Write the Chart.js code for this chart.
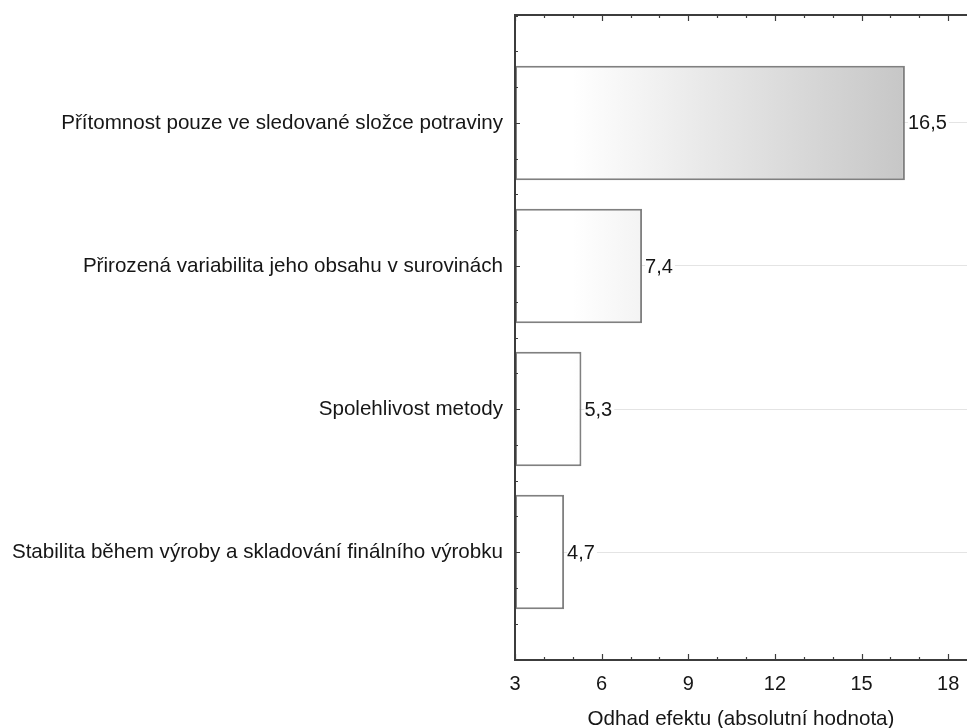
<!DOCTYPE html>
<html>
<head>
<meta charset="utf-8">
<script src="https://cdn.jsdelivr.net/npm/chart.js@4/dist/chart.umd.min.js"></script>
<style>
  body { margin: 0; background: #fff; }
  #wrap { width: 967px; height: 728px; }
</style>
</head>
<body>
<div id="wrap"><canvas id="chart"></canvas></div>
<script>
// data
const categories = [
  'Přítomnost pouze ve sledované složce potraviny',
  'Přirozená variabilita jeho obsahu v surovinách',
  'Spolehlivost metody',
  'Stabilita během výroby a skladování finálního výrobku'
];
const effects = [16.5, 7.4, 5.3, 4.7];
const xTickValues = [3, 6, 9, 12, 15, 18];
const xMin = 3, xMax = 18.65;

const fontFamily = '"Liberation Sans", Arial, sans-serif';
const textColor = '#161616';
const frameColor = '#3c3c3c';

// frame + inward tick marks, like the original plot
const frameTicks = {
  id: 'frameTicks',
  afterDraw(chart) {
    const ctx = chart.ctx;
    const a = chart.chartArea;
    const xs = chart.scales.x, ys = chart.scales.y;
    ctx.save();
    ctx.strokeStyle = frameColor;
    ctx.lineWidth = 2;
    ctx.beginPath();
    ctx.moveTo(a.right + 2, a.top);
    ctx.lineTo(a.left, a.top);
    ctx.lineTo(a.left, a.bottom);
    ctx.lineTo(a.right + 2, a.bottom);
    ctx.stroke();

    ctx.lineWidth = 1.2;
    ctx.beginPath();
    for (let v = Math.ceil(xMin); v <= xMax; v++) {
      const px = Math.round(xs.getPixelForValue(v)) + 0.5;
      const len = (v % 3 === 0) ? 6 : 3;
      ctx.moveTo(px, a.bottom);
      ctx.lineTo(px, a.bottom - len);
      ctx.moveTo(px, a.top);
      ctx.lineTo(px, a.top + len);
    }
    for (let v = -0.75; v <= 3.75; v += 0.25) {
      const py = Math.round(ys.getPixelForValue(v)) + 0.5;
      const len = Number.isInteger(v) ? 5 : 3;
      ctx.moveTo(a.left, py);
      ctx.lineTo(a.left + len, py);
    }
    ctx.stroke();
    ctx.restore();
  }
};

// value labels with comma decimals
const valueLabels = {
  id: 'valueLabels',
  afterDatasetsDraw(chart) {
    const ctx = chart.ctx;
    const meta = chart.getDatasetMeta(0);
    ctx.save();
    ctx.font = '20px ' + fontFamily;
    ctx.textBaseline = 'middle';
    ctx.textAlign = 'left';
    meta.data.forEach((bar, i) => {
      const txt = effects[i].toFixed(1).replace('.', ',');
      const w = ctx.measureText(txt).width;
      const x = bar.x + 3;
      ctx.fillStyle = '#fff';
      ctx.fillRect(x, bar.y - 11, w + 2, 22);
      ctx.fillStyle = textColor;
      ctx.fillText(txt, x, bar.y + 1);
    });
    ctx.restore();
  }
};

const ctx = document.getElementById('chart').getContext('2d');

const chart = new Chart(ctx, {
  type: 'bar',
  data: {
    datasets: [{
      data: effects.map((v, i) => ({ x: v, y: i })),
      base: xMin,
      backgroundColor: function(c) {
        const ch = c.chart;
        if (!ch.chartArea) return '#ffffff';
        const x0 = ch.scales.x.getPixelForValue(5.0);
        const g = ch.ctx.createLinearGradient(x0, 0, ch.chartArea.right, 0);
        g.addColorStop(0, '#ffffff');
        g.addColorStop(1, '#bcbcbc');
        return g;
      },
      borderColor: '#808080',
      borderWidth: 2,
      borderSkipped: false,
      categoryPercentage: 1,
      barPercentage: 0.8
    }]
  },
  options: {
    indexAxis: 'y',
    responsive: true,
    maintainAspectRatio: false,
    animation: false,
    layout: { padding: { top: 15, right: 0, bottom: 0, left: 0 } },
    plugins: {
      legend: { display: false },
      tooltip: { enabled: false }
    },
    scales: {
      x: {
        type: 'linear',
        min: xMin,
        max: xMax,
        afterBuildTicks: function(scale) {
          scale.ticks = xTickValues.map(v => ({ value: v }));
        },
        afterFit: function(scale) {
          scale.height = 68;
          scale.paddingLeft = 0;
          scale.paddingRight = 0;
        },
        grid: { display: false, drawTicks: false },
        border: { display: false },
        ticks: {
          padding: 12,
          color: textColor,
          font: { family: fontFamily, size: 20 },
          maxRotation: 0
        },
        title: {
          display: true,
          text: 'Odhad efektu (absolutní hodnota)',
          color: textColor,
          font: { family: fontFamily, size: 20.6 },
          padding: { top: 0, bottom: -4 }
        }
      },
      y: {
        type: 'linear',
        reverse: true,
        offset: false,
        min: -0.755,
        max: 3.755,
        afterBuildTicks: function(scale) {
          scale.ticks = categories.map((c, i) => ({ value: i }));
        },
        afterFit: function(scale) {
          scale.width = 515;
          scale.paddingTop = 0;
          scale.paddingBottom = 0;
        },
        grid: { offset: false, color: '#e4e4e4', lineWidth: 1, drawTicks: false },
        border: { display: false },
        ticks: {
          padding: 12,
          color: textColor,
          font: { family: fontFamily, size: 20.6 },
          callback: function(v) { return categories[v]; }
        }
      }
    }
  },
  plugins: [frameTicks, valueLabels]
});
</script>
</body>
</html>
